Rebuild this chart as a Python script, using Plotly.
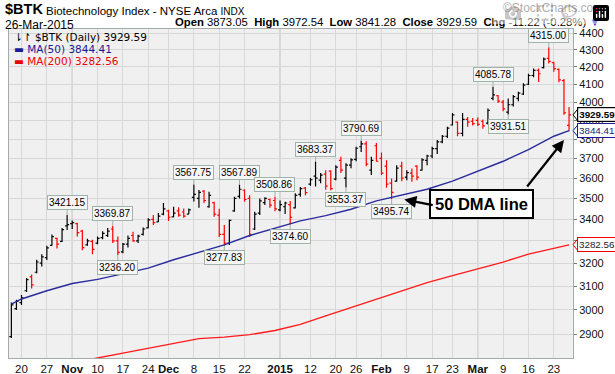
import math
import pandas as pd
import plotly.graph_objects as go

# ---------------- data ----------------
holidays = ['2014-11-27', '2014-12-25', '2015-01-01', '2015-01-19', '2015-02-16']
dates = [d.strftime('%Y-%m-%d') for d in pd.bdate_range('2014-10-16', '2015-03-26')
         if d.strftime('%Y-%m-%d') not in holidays]

opens = [2890, 3005, 3030, 3080, 3140, 3160, 3200, 3225, 3280, 3312, 3298, 3370, 3380, 3380, 3345,
         3282, 3298, 3290, 3315, 3325, 3355, 3300, 3250, 3285, 3325, 3300, 3330, 3360, 3400, 3388,
         3425, 3440, 3412, 3440, 3435, 3425, 3505, 3500, 3535, 3460, 3480, 3420, 3330, 3290, 3440,
         3510, 3540, 3500, 3355, 3430, 3480, 3495, 3490, 3445, 3460, 3470, 3455, 3520, 3550, 3570,
         3610, 3590, 3620, 3635, 3595, 3690, 3600, 3665, 3695, 3760, 3775, 3640, 3765, 3700, 3660,
         3575, 3585, 3660, 3605, 3625, 3660, 3640, 3690, 3712, 3750, 3785, 3815, 3875, 3890, 3830,
         3905, 3895, 3900, 3895, 3885, 4020, 4035, 4000, 3945, 3985, 4020, 4045, 4100, 4150, 4180,
         4195, 4250, 4225, 4185, 4120, 3873.05]
highs = [3030, 3042, 3062, 3135, 3150, 3215, 3240, 3278, 3330, 3315, 3360, 3421.15, 3395, 3384, 3352,
         3310, 3305, 3320, 3345, 3360, 3369.87, 3320, 3290, 3325, 3342, 3328, 3362, 3405, 3421, 3430,
         3478, 3446, 3460, 3458, 3452, 3452, 3567.75, 3541, 3541, 3533, 3484, 3450, 3374, 3400, 3508,
         3567.89, 3545, 3516, 3436, 3500, 3506, 3500, 3508.86, 3490, 3484, 3488, 3525, 3556, 3556, 3600,
         3683.37, 3625, 3640, 3640, 3665, 3708, 3675, 3700, 3760, 3790.69, 3788, 3708, 3780, 3730, 3690,
         3598, 3665, 3683, 3640, 3648, 3665, 3700, 3718, 3760, 3795, 3822, 3866, 3940, 3894, 3940,
         3918, 3912, 3915, 3905, 3965, 4085.78, 4040, 4012, 4020, 4040, 4058, 4105, 4160, 4190, 4190,
         4255, 4315.00, 4229, 4190, 4130, 3972.54]
lows = [2885, 2999, 3020, 3075, 3090, 3155, 3185, 3214, 3278, 3266, 3295, 3350, 3355, 3320, 3258,
        3278, 3240, 3285, 3308, 3318, 3290, 3236.20, 3244, 3270, 3296, 3290, 3325, 3358, 3374, 3388,
        3420, 3392, 3410, 3412, 3408, 3425, 3485, 3455, 3478, 3455, 3412, 3318, 3277.83, 3282, 3436,
        3500, 3484, 3318, 3350, 3421, 3468, 3455, 3438, 3438, 3425, 3374.60, 3452, 3508, 3516, 3562,
        3558, 3575, 3542, 3540, 3590, 3625, 3553.37, 3650, 3685, 3732, 3660, 3615, 3682, 3615, 3552,
        3495.74, 3582, 3585, 3590, 3582, 3590, 3638, 3665, 3700, 3722, 3778, 3806, 3872, 3815, 3815,
        3865, 3872, 3870, 3855, 3878, 4010, 3995, 3950, 3931.51, 3975, 4005, 4040, 4095, 4140, 4112,
        4190, 4220, 4171, 4111, 3930, 3841.28]
closes = [3020, 3035, 3050, 3128, 3105, 3205, 3228, 3268, 3320, 3285, 3352, 3375, 3385, 3338, 3270,
          3300, 3262, 3312, 3335, 3345, 3300, 3248, 3285, 3312, 3300, 3322, 3355, 3398, 3385, 3415,
          3450, 3410, 3430, 3420, 3415, 3445, 3520, 3530, 3490, 3515, 3425, 3330, 3290, 3395, 3500,
          3545, 3495, 3330, 3425, 3488, 3500, 3468, 3450, 3470, 3478, 3410, 3515, 3548, 3528, 3592,
          3600, 3615, 3560, 3548, 3655, 3640, 3665, 3692, 3752, 3775, 3670, 3690, 3685, 3625, 3570,
          3530, 3650, 3600, 3628, 3610, 3605, 3692, 3712, 3750, 3785, 3815, 3858, 3930, 3830, 3905,
          3890, 3882, 3878, 3870, 3955, 4040, 4005, 3962, 3985, 4030, 4050, 4095, 4150, 4180, 4160,
          4245, 4232, 4190, 4125, 3940.81, 3929.59]

ma50_dates = ['2014-10-16', '2014-10-20', '2014-10-27', '2014-11-03', '2014-11-10', '2014-11-17',
              '2014-11-24', '2014-12-02', '2014-12-09', '2014-12-16', '2014-12-23', '2014-12-31',
              '2015-01-08', '2015-01-15', '2015-01-23', '2015-01-30', '2015-02-06', '2015-02-13',
              '2015-02-23', '2015-03-02', '2015-03-09', '2015-03-16', '2015-03-23', '2015-03-26']
ma50_vals = [3023, 3045, 3080, 3111, 3129, 3155, 3178, 3215, 3248, 3282, 3325, 3358,
             3393, 3418, 3448, 3488, 3518, 3545, 3585, 3635, 3685, 3745, 3815, 3844.41]

ma200_dates = ['2014-10-16', '2014-11-03', '2014-11-10', '2014-11-17', '2014-11-24', '2014-12-02',
               '2014-12-09', '2014-12-16', '2014-12-23', '2014-12-31', '2015-01-08', '2015-01-15',
               '2015-01-23', '2015-01-30', '2015-02-06', '2015-02-13', '2015-02-23', '2015-03-02',
               '2015-03-09', '2015-03-16', '2015-03-23', '2015-03-26']
ma200_vals = [2745, 2790, 2806, 2825, 2843, 2862, 2882, 2888, 2898, 2915, 2940, 2975,
              3010, 3045, 3080, 3115, 3145, 3175, 3205, 3240, 3268, 3282.56]

tick_dates = ['2014-10-20', '2014-10-27', '2014-11-03', '2014-11-10', '2014-11-17', '2014-11-24',
              '2014-12-01', '2014-12-08', '2014-12-15', '2014-12-22', '2015-01-02', '2015-01-12',
              '2015-01-20', '2015-01-26', '2015-02-02', '2015-02-09', '2015-02-17', '2015-02-23',
              '2015-03-02', '2015-03-09', '2015-03-16', '2015-03-23']
tick_text = ['20', '27', '<b>Nov</b>', '10', '17', '24', '<b>Dec</b>', '8', '15', '22', '<b>2015</b>',
             '12', '20', '26', '<b>Feb</b>', '9', '17', '23', '<b>Mar</b>', '9', '16', '23']
month_dates = ['2014-11-03', '2014-12-01', '2015-01-02', '2015-02-02', '2015-03-02']

price_ticks = [2900, 3000, 3100, 3200, 3300, 3400, 3500, 3600, 3700, 3800, 3900, 4000, 4100, 4200, 4300, 4400]
price_labels = ['2900', '3000', '3100', '3200', '', '3400', '3500', '3600', '3700', '3800', '3900',
                '4000', '4100', '4200', '4300', '4400']

high_callouts = ['2014-10-31', '2014-11-13', '2014-12-08', '2014-12-19', '2014-12-31', '2015-01-13',
                 '2015-01-27', '2015-03-05', '2015-03-20']
low_callouts = ['2014-11-14', '2014-12-16', '2015-01-06', '2015-01-22', '2015-02-04', '2015-03-10']

# ---------------- figure ----------------
FW, FH = 615, 374
ML, MR, MT, MB = 9, 42, 29, 16
PW, PH = FW - ML - MR, FH - MT - MB
FONT = 'Liberation Sans, Arial, sans-serif'
Y_LO, Y_HI = math.log10(2806), math.log10(4426)
X_LO, X_HI = -0.465, 110.78


def px(x):
    return (x - ML) / PW


def py(y):
    return 1 - (y - MT) / PH


def vy(v):
    return (math.log10(v) - Y_LO) / (Y_HI - Y_LO)


pos = {d: i for i, d in enumerate(dates)}
xs = list(range(len(dates)))
up = [i == 0 or closes[i] > closes[i - 1] for i in range(len(dates))]

fig = go.Figure()
for flag, col in ((True, '#000000'), (False, '#ff0000')):
    idx = [i for i in xs if up[i] == flag]
    fig.add_trace(go.Ohlc(
        x=[xs[i] for i in idx], open=[opens[i] for i in idx], high=[highs[i] for i in idx],
        low=[lows[i] for i in idx], close=[closes[i] for i in idx],
        increasing=dict(line=dict(color=col, width=1.2)),
        decreasing=dict(line=dict(color=col, width=1.2)),
        tickwidth=0.4, hoverinfo='skip', showlegend=False))

fig.add_trace(go.Scatter(x=[pos[d] for d in ma50_dates], y=ma50_vals, mode='lines',
                         line=dict(color='#2b2b9e', width=1.4), hoverinfo='skip', showlegend=False))
fig.add_trace(go.Scatter(x=[pos[d] for d in ma200_dates], y=ma200_vals, mode='lines',
                         line=dict(color='#ff1a1a', width=1.3), hoverinfo='skip', showlegend=False))

shapes = []
for d in month_dates:
    shapes.append(dict(type='line', xref='x', yref='paper', x0=pos[d], x1=pos[d], y0=0, y1=1,
                       line=dict(color='#b4b4b4', width=1), layer='below'))

ann = []
# header
ann.append(dict(xref='paper', yref='paper', x=px(3), y=py(9), xanchor='left', yanchor='middle',
                text='<b>$BTK</b>', font=dict(family=FONT, size=14.5, color='#000'), showarrow=False))
ann.append(dict(xref='paper', yref='paper', x=px(44), y=py(10.5), xanchor='left', yanchor='middle',
                text="Biotechnology Index - NYSE Arca <span style='font-size:10px'>INDX</span>",
                font=dict(family=FONT, size=11.5, color='#000'), showarrow=False))
ann.append(dict(xref='paper', yref='paper', x=px(605), y=py(8), xanchor='right', yanchor='middle',
                text='©StockCharts.com', font=dict(family=FONT, size=12, color='#5a5a5a'), showarrow=False))
ann.append(dict(xref='paper', yref='paper', x=px(3), y=py(24.5), xanchor='left', yanchor='middle',
                text='26-Mar-2015', font=dict(family=FONT, size=12, color='#000'), showarrow=False))
ann.append(dict(xref='paper', yref='paper', x=px(603), y=py(22), xanchor='right', yanchor='middle',
                text="<b>Open</b> 3873.05  <b>High</b> 3972.54  <b>Low</b> 3841.28  <b>Close</b> 3929.59  "
                     "<b>Chg</b> -11.22 (-0.28%) <span style='color:#2233dd'>▼</span>",
                font=dict(family=FONT, size=11.3, color='#000'), showarrow=False))
# in-plot legend
ann.append(dict(xref='paper', yref='paper', x=px(12), y=py(37), xanchor='left', yanchor='middle',
                text='⇂↾ $BTK (Daily) 3929.59', font=dict(family='DejaVu Sans', size=10.5, color='#000'),
                showarrow=False))
ann.append(dict(xref='paper', yref='paper', x=px(12), y=py(49), xanchor='left', yanchor='middle',
                text='▬ MA(50) 3844.41', font=dict(family='DejaVu Sans', size=10.5, color='#1a1a9a'),
                showarrow=False))
ann.append(dict(xref='paper', yref='paper', x=px(12), y=py(61), xanchor='left', yanchor='middle',
                text='▬ MA(200) 3282.56', font=dict(family='DejaVu Sans', size=10.5, color='#ee0000'),
                showarrow=False))

# callouts
box = dict(bordercolor='#9fb3a8', borderwidth=1, bgcolor='#f6f6f6', borderpad=1,
           font=dict(family=FONT, size=10, color='#000'), arrowcolor='#9fb3a8',
           arrowwidth=1, arrowhead=0, showarrow=True, ax=0, xanchor='center')
for d in high_callouts:
    i = pos[d]
    ann.append(dict(x=i, y=math.log10(highs[i]), text='%.2f' % highs[i], ay=-12, **box))
for d in low_callouts:
    i = pos[d]
    ann.append(dict(x=i, y=math.log10(lows[i]), text='%.2f' % lows[i], ay=12, **box))

# right-side value tags with pointed left end
last = len(dates) - 1
tag_w, tag_h = 3.5 / PW, 5.5 / PH
for val, txt, bc, tc, bold in ((closes[last], '%.2f' % closes[last], '#000000', '#000000', True),
                               (ma50_vals[-1], '%.2f' % ma50_vals[-1], '#1a1a9a', '#1a1a7a', False),
                               (ma200_vals[-1], '%.2f' % ma200_vals[-1], '#ee0000', '#222222', False)):
    yv = vy(val)
    ann.append(dict(xref='paper', x=1, xanchor='left', xshift=3.5, y=math.log10(val), yref='y',
                    yanchor='middle',
                    text=('<b>%s</b>' % txt) if bold else txt, showarrow=False,
                    bordercolor=bc, borderwidth=1.2 if bold else 1, bgcolor='#ffffff', borderpad=1,
                    font=dict(family=FONT, size=9.8, color=tc)))
    shapes.append(dict(type='path', xref='paper', yref='paper',
                       path='M %f,%f L %f,%f L %f,%f Z' % (1.0, yv, 1 + tag_w + 1 / PW, yv + tag_h,
                                                           1 + tag_w + 1 / PW, yv - tag_h),
                       fillcolor='#ffffff', line=dict(color=bc, width=1), layer='above'))

# 50 DMA line callout
ann.append(dict(xref='paper', yref='paper', x=px(481), y=py(204), xanchor='center', yanchor='middle',
                text='<b>50 DMA line</b>', showarrow=False, bordercolor='#000', borderwidth=2,
                bgcolor='#fff', borderpad=4, font=dict(family=FONT, size=16.5, color='#000')))
ann.append(dict(x=pos['2015-02-06'] + 0.5, y=math.log10(3495), text='', showarrow=True,
                ax=30, ay=6, arrowhead=2, arrowsize=1.1, arrowwidth=2.2, arrowcolor='#000'))
ann.append(dict(x=pos['2015-03-25'], y=math.log10(3795), text='', showarrow=True,
                ax=-38, ay=48, arrowhead=2, arrowsize=1.1, arrowwidth=2.2, arrowcolor='#000'))

fig.update_layout(
    width=FW, height=FH, autosize=False,
    margin=dict(l=ML, r=MR, t=MT, b=MB, pad=0, autoexpand=False),
    paper_bgcolor='#ffffff', plot_bgcolor='#f0f0f0',
    showlegend=False, shapes=shapes, annotations=ann,
    xaxis=dict(range=[X_LO, X_HI], tickmode='array', tickvals=[pos[d] for d in tick_dates],
               ticktext=tick_text, showgrid=True, gridcolor='#d8d8d8', gridwidth=1, zeroline=False,
               showline=True, mirror=True, linecolor='#a3aca6', linewidth=1, ticks='',
               automargin=False,
               tickfont=dict(family=FONT, size=11.5, color='#111'), rangeslider=dict(visible=False),
               fixedrange=True),
    yaxis=dict(type='log', side='right', range=[Y_LO, Y_HI], automargin=False,
               tickmode='array', tickvals=price_ticks, ticktext=price_labels,
               showgrid=True, gridcolor='#d8d8d8', gridwidth=1, zeroline=False,
               showline=True, mirror=True, linecolor='#a3aca6', linewidth=1,
               ticks='outside', ticklen=3, tickcolor='#777',
               tickfont=dict(family=FONT, size=11, color='#111'), fixedrange=True),
)

fig.write_html('out.html', post_script="document.body.style.margin='0px';")
